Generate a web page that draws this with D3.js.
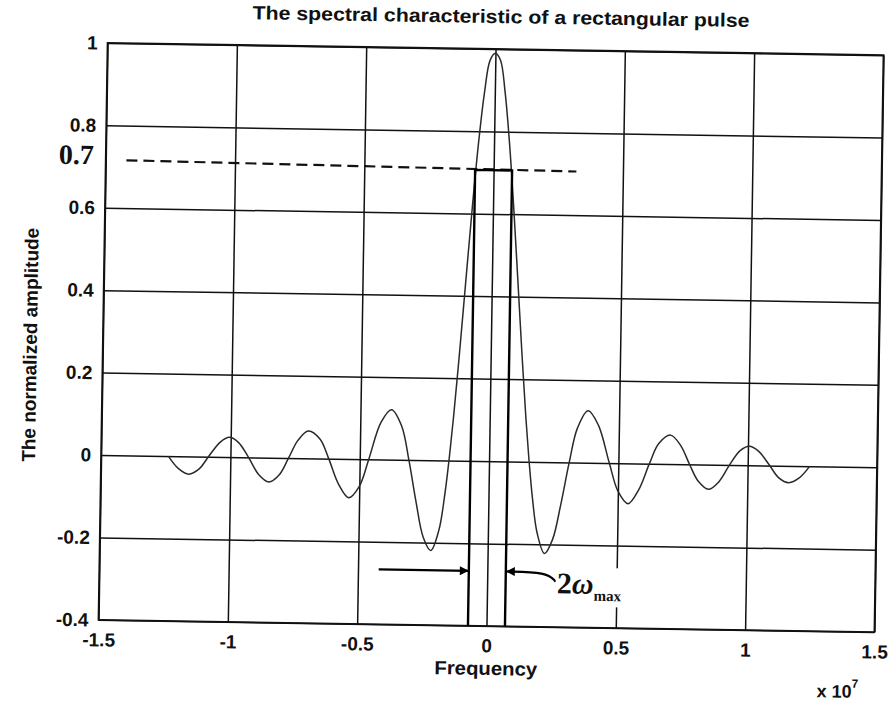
<!DOCTYPE html>
<html>
<head>
<meta charset="utf-8">
<script src="https://cdn.jsdelivr.net/npm/d3@7"></script>
<style>
  body { margin: 0; background: #fff; }
  svg text { font-family: "Liberation Sans", Arial, sans-serif; fill: #111; }
</style>
</head>
<body>
<svg id="chart" width="893" height="705"></svg>
<script>
// curve (frequency in units of 1e7)
let freq = [-1.24, -1.20, -1.16, -1.12, -1.085, -1.04, -1.005, -0.97, -0.93, -0.89, -0.85, -0.81, -0.775,
            -0.74, -0.70, -0.655, -0.62, -0.58, -0.54, -0.50, -0.465, -0.42, -0.38, -0.34, -0.31, -0.28,
            -0.25, -0.22, -0.19, -0.17, -0.155, -0.14, -0.12, -0.10, -0.08, -0.06, -0.04, -0.02, 0,
            0.02, 0.04, 0.06, 0.08, 0.10, 0.12, 0.14, 0.155, 0.17, 0.19, 0.22, 0.25, 0.28, 0.31,
            0.34, 0.38, 0.42, 0.465, 0.50, 0.54, 0.58, 0.62, 0.655, 0.70, 0.74, 0.775, 0.81, 0.85,
            0.89, 0.93, 0.97, 1.005, 1.04, 1.085, 1.12, 1.16, 1.20, 1.24];
let amp = [0, -0.030, -0.043, -0.030, 0, 0.036, 0.048, 0.036, 0, -0.041, -0.059, -0.041, 0,
           0.043, 0.066, 0.047, 0, -0.062, -0.094, -0.066, 0, 0.090, 0.121, 0.082, 0, -0.101,
           -0.187, -0.219, -0.170, -0.088, 0, 0.105, 0.268, 0.443, 0.616, 0.771, 0.894, 0.973, 0.99,
           0.973, 0.894, 0.771, 0.616, 0.443, 0.268, 0.105, 0, -0.088, -0.172, -0.222, -0.188, -0.102, 0,
           0.084, 0.126, 0.092, 0, -0.068, -0.098, -0.064, 0, 0.049, 0.070, 0.045, 0, -0.041, -0.060,
           -0.041, 0, 0.035, 0.046, 0.035, 0, -0.029, -0.041, -0.029, 0];

let xTicks = [-1.5, -1, -0.5, 0, 0.5, 1, 1.5];
let yTicks = [-0.4, -0.2, 0, 0.2, 0.4, 0.6, 0.8, 1];

// hand drawn marks on the scan
let levelX = [-1.42, 0.32];
let levelY = [0.716, 0.706];
let bandX = [-0.0715, -0.0715, 0.0715, 0.0715];
let bandY = [-0.4, 0.706, 0.706, -0.4];
let arrowY = -0.267;
let leftArrowX = [-0.42, -0.0715];
let rightArrowX = [0.0715, 0.23, 0.265];
let rightArrowY = [arrowY, arrowY, -0.29];

var width = 893, height = 705;
var plotL = 103, plotR = 879, plotT = 49, plotB = 626;

var svg = d3.select("svg#chart");
svg.append("rect").attr("width", width).attr("height", height).attr("fill", "#fff");

// the scan is turned a little clockwise
var g = svg.append("g").attr("transform", "rotate(0.9, 491, 337)");

var x = d3.scaleLinear().domain([-1.5, 1.5]).range([plotL, plotR]);
var y = d3.scaleLinear().domain([-0.4, 1]).range([plotB, plotT]);

// GRID + TICK LABELS
g.append("g")
    .attr("class", "xaxis")
    .attr("transform", "translate(0," + plotB + ")")
    .call(d3.axisBottom(x).tickValues(xTicks).tickSize(-(plotB - plotT)).tickPadding(13)
        .tickFormat(function(d){ return String(d); }));

g.append("g")
    .attr("class", "yaxis")
    .attr("transform", "translate(" + plotL + ",0)")
    .call(d3.axisLeft(y).tickValues(yTicks).tickSize(-(plotR - plotL)).tickPadding(10)
        .tickFormat(function(d){ return String(d); }));

g.selectAll(".xaxis .domain, .yaxis .domain").remove();
g.selectAll(".xaxis line, .yaxis line").attr("stroke", "#111").attr("stroke-width", 1.5);
g.selectAll(".xaxis text, .yaxis text")
    .attr("fill", "#111")
    .style("font-size", "19px")
    .style("font-weight", "bold");

g.append("rect")
    .attr("x", plotL).attr("y", plotT)
    .attr("width", plotR - plotL).attr("height", plotB - plotT)
    .attr("fill", "none").attr("stroke", "#111").attr("stroke-width", 1.8);

// THE SPECTRUM
var line = d3.line()
    .x(function(d, i){ return x(freq[i]); })
    .y(function(d, i){ return y(amp[i]); })
    .curve(d3.curveCatmullRom);

g.append("path")
    .attr("d", line(freq))
    .attr("fill", "none")
    .attr("stroke", "#2a2a2a")
    .attr("stroke-width", 1.5);

// ANNOTATIONS
var pts = d3.line().x(function(d){ return x(d[0]); }).y(function(d){ return y(d[1]); });

g.append("path")
    .attr("d", pts(d3.zip(levelX, levelY)))
    .attr("stroke", "#111").attr("stroke-width", 2.2)
    .attr("stroke-dasharray", "11,6").attr("fill", "none");

g.append("path")
    .attr("d", pts(d3.zip(bandX, bandY)))
    .attr("stroke", "#000").attr("stroke-width", 2.4).attr("fill", "none");

g.append("text")
    .attr("x", x(-1.5) - 12)
    .attr("y", y(levelY[0]) - 2)
    .attr("text-anchor", "end")
    .attr("dominant-baseline", "middle")
    .style("font-family", "'Liberation Serif', 'Times New Roman', serif")
    .style("font-size", "28px")
    .style("font-weight", "bold")
    .text("0.7");

svg.append("defs").append("marker")
    .attr("id", "head")
    .attr("viewBox", "0 0 10 10")
    .attr("refX", 10).attr("refY", 5)
    .attr("markerWidth", 13).attr("markerHeight", 9)
    .attr("markerUnits", "userSpaceOnUse")
    .attr("orient", "auto-start-reverse")
    .append("path")
    .attr("d", "M0,0L10,5L0,10z")
    .attr("fill", "#000");

g.append("path")
    .attr("d", pts(leftArrowX.map(function(v){ return [v, arrowY]; })))
    .attr("stroke", "#000").attr("stroke-width", 2.2).attr("fill", "none")
    .attr("marker-end", "url(#head)");

g.append("path")
    .attr("d", d3.line().x(function(d){ return x(d[0]); }).y(function(d){ return y(d[1]); })
        .curve(d3.curveBasis)(d3.zip(rightArrowX, rightArrowY)))
    .attr("stroke", "#000").attr("stroke-width", 2.2).attr("fill", "none")
    .attr("marker-start", "url(#head)");

// white patch behind the label hides the 0.5 grid line
g.append("rect")
    .attr("x", x(0.265)).attr("y", y(-0.255))
    .attr("width", x(0.545) - x(0.265)).attr("height", y(-0.35) - y(-0.255))
    .attr("fill", "#fff");

var lab = g.append("text")
    .attr("x", x(0.27))
    .attr("y", y(-0.318))
    .style("font-family", "'Liberation Serif', 'Times New Roman', serif")
    .style("font-size", "30px")
    .style("font-weight", "bold");
lab.append("tspan").text("2");
lab.append("tspan").style("font-style", "italic").text("\u03c9");
lab.append("tspan").attr("dy", 7).style("font-size", "15px").text("max");

// TITLE + AXIS LABELS
g.append("text")
    .attr("x", (plotL + plotR) / 2 + 5).attr("y", 23)
    .attr("text-anchor", "middle")
    .attr("textLength", 497).attr("lengthAdjust", "spacingAndGlyphs")
    .style("font-size", "19px").style("font-weight", "bold")
    .text("The spectral characteristic of a rectangular pulse");

g.append("text")
    .attr("x", (plotL + plotR) / 2).attr("y", 675)
    .attr("text-anchor", "middle")
    .attr("textLength", 103).attr("lengthAdjust", "spacingAndGlyphs")
    .style("font-size", "19px").style("font-weight", "bold")
    .text("Frequency");

g.append("text")
    .attr("transform", "translate(37," + 352 + ") rotate(-90)")
    .attr("text-anchor", "middle")
    .attr("textLength", 234).attr("lengthAdjust", "spacingAndGlyphs")
    .style("font-size", "19px").style("font-weight", "bold")
    .text("The normalized amplitude");

var mult = g.append("text")
    .attr("x", 822).attr("y", 692)
    .style("font-size", "18px").style("font-weight", "bold");
mult.append("tspan").text("x 10");
mult.append("tspan").attr("dy", -10).style("font-size", "12px").text("7");
</script>
</body>
</html>
